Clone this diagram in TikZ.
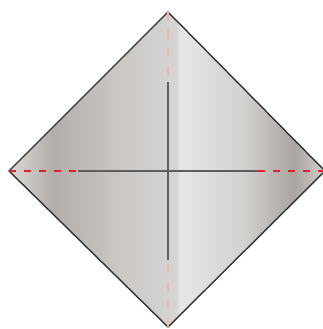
\documentclass[tikz,border=0pt]{standalone}
\usetikzlibrary{calc}
\definecolor{mA}{HTML}{DAD8D6}
\definecolor{mB}{HTML}{B3AEA9}
\definecolor{mC}{HTML}{C9C6C3}
\definecolor{mD}{HTML}{D6D5D4}
\definecolor{mE}{HTML}{E6E6E6}
\definecolor{mF}{HTML}{D4D2D0}
\definecolor{mG}{HTML}{A9A4A0}
\definecolor{mH}{HTML}{D2CFCC}
\definecolor{foldred}{HTML}{E0202E}
\definecolor{foldpink}{HTML}{F2B8A6}
\definecolor{crease}{HTML}{5E5E5E}
\pgfdeclarehorizontalshading{metal}{100bp}{
  color(0bp)=(mA); color(25bp)=(mA); color(32bp)=(mB); color(42bp)=(mC);
  color(51.5bp)=(mD); color(52bp)=(mE); color(62bp)=(mF);
  color(70bp)=(mG); color(75bp)=(mH); color(100bp)=(mH)}
\tikzset{
  paper/.style={draw=black!80, line width=1.4pt, line join=miter, shading=metal},
  creaseline/.style={draw=crease, line width=2.7pt},
  reddash/.style={draw=foldred, line width=1.8pt, dash pattern=on 7pt off 8pt},
  pinkdash/.style={draw=foldpink, line width=1.3pt, dash pattern=on 9pt off 9pt}
}
\begin{document}
\begin{tikzpicture}[x=1pt,y=-1pt]
\useasboundingbox (0,0) rectangle (323,329);
\coordinate (T) at (168,12);
\coordinate (L) at (9,171);
\coordinate (R) at (325,171);
\coordinate (B) at (168,327);
\coordinate (C) at (168,171);
\coordinate (VT) at (168,82);
\coordinate (VB) at (168,260);
\coordinate (HL) at (78,171);
\coordinate (HR) at (258,171);
\path[paper] (T) -- (R) -- (B) -- (L) -- cycle;
\draw[reddash] (L) -- (HL);
\draw[reddash] (R) -- (HR);
\draw[pinkdash] (T) -- (VT);
\draw[pinkdash] (B) -- (VB);
\draw[creaseline] (HL) -- (HR);
\draw[creaseline] (VT) -- (VB);
\end{tikzpicture}
\end{document}
